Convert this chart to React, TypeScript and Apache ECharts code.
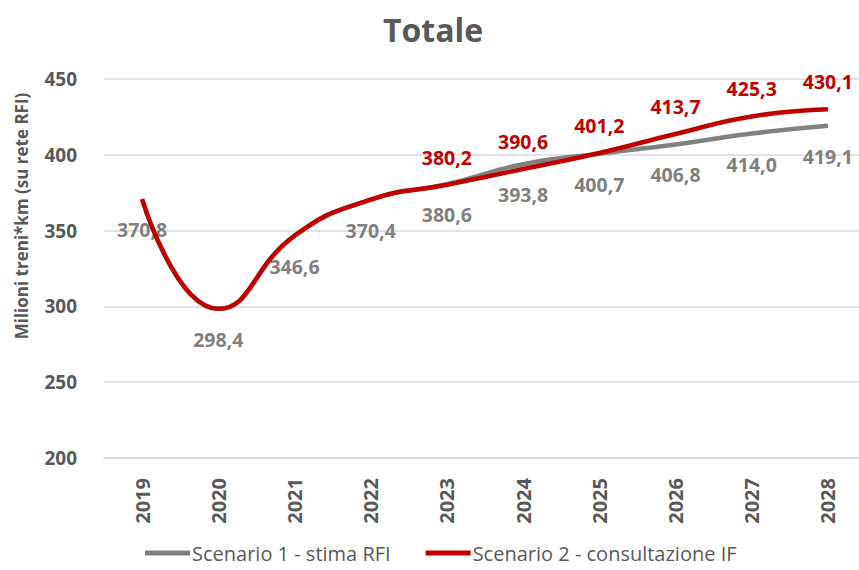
import React, { useEffect, useRef } from "react";
import * as echarts from "echarts";

const years = ["2019", "2020", "2021", "2022", "2023", "2024", "2025", "2026", "2027", "2028"];
const scenario1 = [370.8, 298.4, 346.6, 370.4, 380.6, 393.8, 400.7, 406.8, 414.0, 419.1];
const scenario2 = [370.8, 298.4, 346.6, 370.4, 380.2, 390.6, 401.2, 413.7, 425.3, 430.1];
const scenario2LabelFrom = 4;
const yTicks = { min: 200, max: 450, interval: 50 };

const FONT = "'Open Sans', 'Noto Sans', sans-serif";
const fmt = (v: number) => v.toFixed(1).replace(".", ",");

export default function App() {
  const ref = useRef<HTMLDivElement>(null);
  useEffect(() => {
    if (!ref.current) return;
    const chart = echarts.init(ref.current, undefined, { renderer: "svg" });
    chart.setOption({
      animation: false,
      backgroundColor: "#ffffff",
      title: {
        text: "Totale",
        left: 378,
        top: 8,
        textStyle: { fontFamily: FONT, fontSize: 32, fontWeight: "bold", color: "#595959" },
      },
      legend: {
        top: 538,
        left: 140,
        itemWidth: 45,
        itemHeight: 5,
        itemGap: 35,
        icon: "rect",
        textStyle: { fontFamily: FONT, fontSize: 20, color: "#595959", padding: [0, 0, 0, -3] },
        data: ["Scenario 1 - stima RFI", "Scenario 2 - consultazione IF"],
      },
      graphic: [
        {
          type: "text",
          x: 21,
          y: 216,
          rotation: Math.PI / 2,
          style: {
            text: "Milioni treni*km (su rete RFI)",
            fontFamily: FONT,
            fontSize: 17,
            fontWeight: "bold",
            fill: "#595959",
            align: "center",
            verticalAlign: "middle",
          },
        },
      ],
      grid: { left: 104, top: 79, width: 762, height: 379, containLabel: false },
      xAxis: {
        type: "category",
        data: years,
        boundaryGap: true,
        axisLine: { lineStyle: { color: "#D9D9D9", width: 1.5 } },
        axisTick: { show: false },
        axisLabel: {
          rotate: 90,
          margin: 20,
          fontFamily: FONT,
          fontSize: 20,
          fontWeight: "bold",
          color: "#595959",
        },
      },
      yAxis: {
        type: "value",
        min: yTicks.min,
        max: yTicks.max,
        interval: yTicks.interval,
        axisLine: { show: false },
        axisTick: { show: false },
        splitLine: { lineStyle: { color: "#D9D9D9", width: 1.5 } },
        axisLabel: {
          margin: 27,
          fontFamily: FONT,
          fontSize: 19,
          fontWeight: "bold",
          color: "#595959",
        },
      },
      series: [
        {
          name: "Scenario 1 - stima RFI",
          type: "line",
          smooth: 0.5,
          data: scenario1,
          symbol: "circle",
          symbolSize: 1,
          showSymbol: true,
          lineStyle: { color: "#808080", width: 4.5 },
          itemStyle: { color: "#808080" },
          label: {
            show: true,
            position: "bottom",
            distance: 20,
            formatter: (p: any) => fmt(p.value),
            fontFamily: FONT,
            fontSize: 19.5,
            fontWeight: "bold",
            color: "#808080",
          },
          z: 2,
        },
        {
          name: "Scenario 2 - consultazione IF",
          type: "line",
          smooth: 0.5,
          data: scenario2.map((v, i) => ({
            value: v,
            label: { show: i >= scenario2LabelFrom },
          })),
          symbol: "circle",
          symbolSize: 1,
          showSymbol: true,
          lineStyle: { color: "#C00000", width: 4.5 },
          itemStyle: { color: "#C00000" },
          label: {
            show: true,
            position: "top",
            distance: 17,
            formatter: (p: any) => fmt(p.value),
            fontFamily: FONT,
            fontSize: 19.5,
            fontWeight: "bold",
            color: "#C00000",
          },
          z: 3,
        },
      ],
    });
    return () => chart.dispose();
  }, []);
  return (
    <div style={{ position: "fixed", left: 0, top: 0, width: 859, height: 570, overflow: "hidden" }}>
      <div ref={ref} style={{ width: 880, height: 570 }} />
    </div>
  );
}
